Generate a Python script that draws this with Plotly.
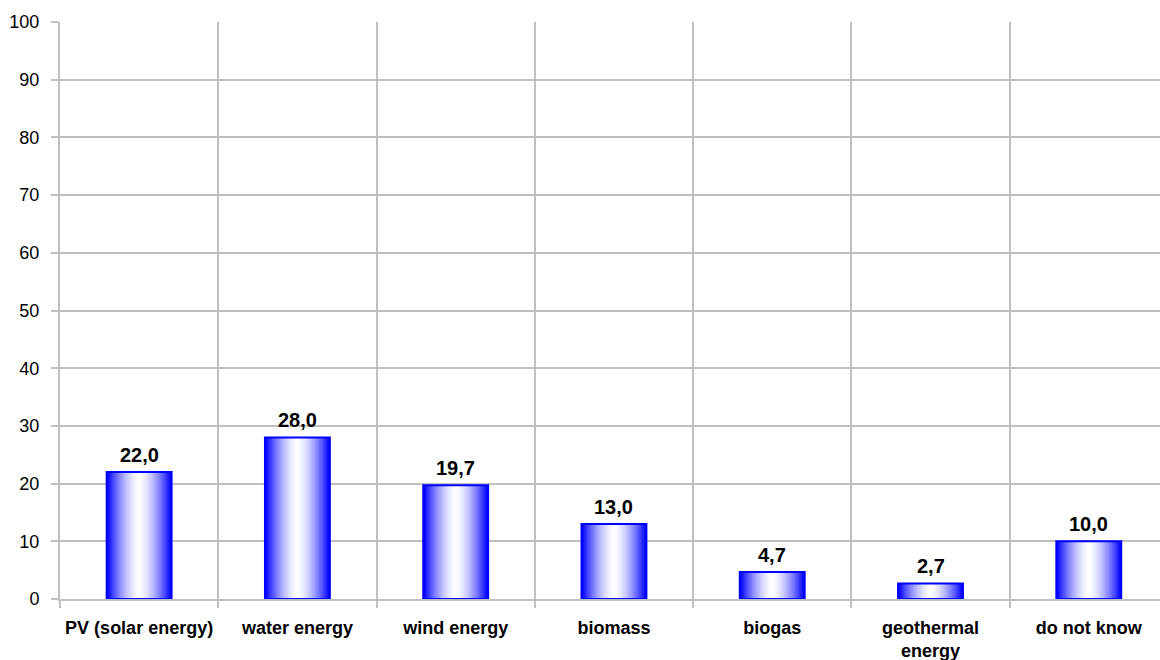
import plotly.graph_objects as go

# Survey answers: share of respondents per renewable source (%)
categories = ["PV (solar energy)", "water energy", "wind energy", "biomass",
              "biogas", "geothermal<br>energy", "do not know"]
values = [22.0, 28.0, 19.7, 13.0, 4.7, 2.7, 10.0]
y_ticks = list(range(0, 101, 10))

FONT = "Liberation Sans, Arial, sans-serif"
GRID = "#c0c0c0"
BAR_WIDTH = 0.41
N_LAYERS = 24

fig = go.Figure()

# Horizontal blue-white-blue gradient built from nested bars of shrinking width
for k in range(N_LAYERS):
    d = (N_LAYERS - k) / N_LAYERS          # relative distance from bar centre
    t = d ** 1.6
    r = int(round(255 * (1 - t)))
    g = int(round(255 * (1 - t)))
    colour = f"rgb({r},{g},255)"
    fig.add_trace(go.Bar(
        x=categories, y=values, width=BAR_WIDTH * d,
        marker=dict(color=colour, line=dict(width=0)),
        hoverinfo="skip", showlegend=False,
    ))

# Outline of each bar
fig.add_trace(go.Bar(
    x=categories, y=values, width=BAR_WIDTH,
    marker=dict(color="rgba(0,0,0,0)", line=dict(color="#0000ff", width=2)),
    showlegend=False,
))

# Value labels above bars
for c, v in zip(categories, values):
    fig.add_annotation(
        x=c, y=v, text=f"<b>{v:.1f}</b>".replace(".", ","),
        showarrow=False, yanchor="bottom", yshift=4,
        font=dict(family=FONT, size=20, color="black"),
    )

fig.update_layout(
    width=1160, height=660,
    margin=dict(l=60, r=0, t=22, b=61),
    paper_bgcolor="white", plot_bgcolor="white",
    barmode="overlay",
    font=dict(family=FONT, color="black"),
    separators=",.",
)

fig.update_xaxes(
    type="category", categoryorder="array", categoryarray=categories,
    range=[-0.5, 6.45], automargin=False,
    tickson="boundaries", ticks="outside", ticklen=7, tickwidth=2, tickcolor=GRID,
    showgrid=True, gridcolor=GRID, gridwidth=2,
    showline=True, linecolor=GRID, linewidth=2,
    tickfont=dict(family=FONT, size=18, color="black", weight="bold"),
    ticklabelstandoff=11,
)

fig.update_yaxes(
    range=[0, 100], tickvals=y_ticks, automargin=False,
    ticks="outside", ticklen=7, tickwidth=2, tickcolor=GRID,
    showgrid=True, gridcolor=GRID, gridwidth=2,
    showline=True, linecolor=GRID, linewidth=2,
    zeroline=False,
    tickfont=dict(family=FONT, size=18, color="black"),
    ticklabelstandoff=8,
)

fig.write_html("out.html")
